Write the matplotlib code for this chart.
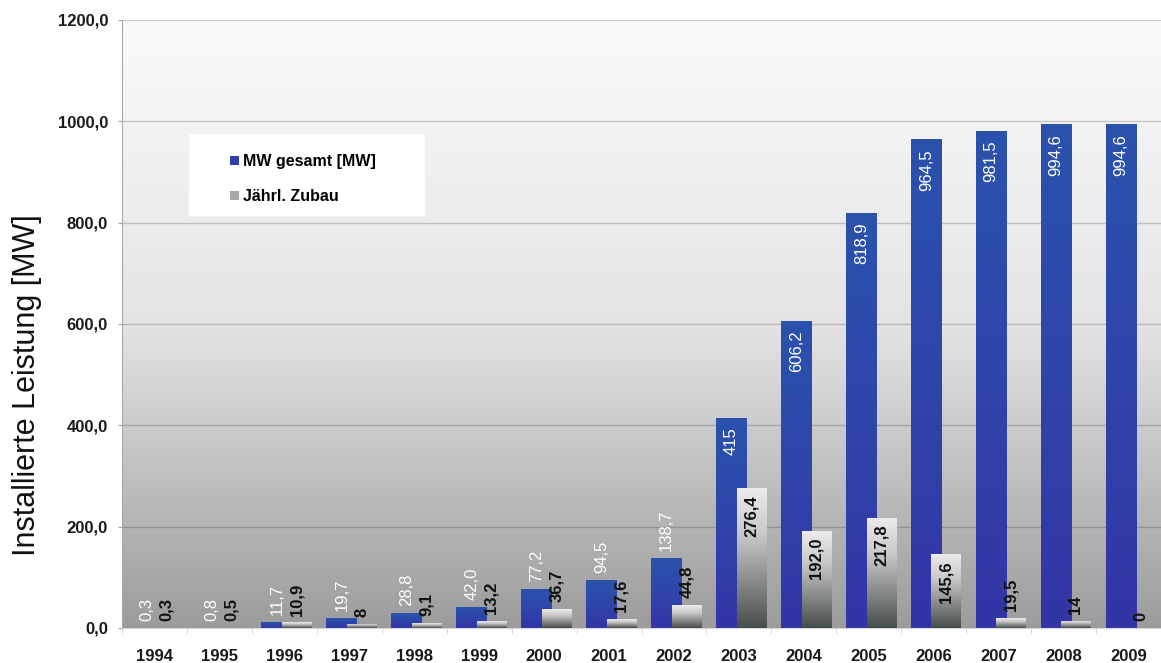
import numpy as np
import matplotlib
matplotlib.use("Agg")
import matplotlib.pyplot as plt
from matplotlib.colors import LinearSegmentedColormap
from matplotlib.patches import Rectangle, Patch
from matplotlib.ticker import FixedLocator, FuncFormatter

plt.rcParams["font.family"] = ["Liberation Sans", "DejaVu Sans"]

# ---- data -------------------------------------------------------------
years = ["1994", "1995", "1996", "1997", "1998", "1999", "2000", "2001",
         "2002", "2003", "2004", "2005", "2006", "2007", "2008", "2009"]
total_labels = ["0,3", "0,8", "11,7", "19,7", "28,8", "42,0", "77,2", "94,5",
                "138,7", "415", "606,2", "818,9", "964,5", "981,5", "994,6", "994,6"]
annual_labels = ["0,3", "0,5", "10,9", "8", "9,1", "13,2", "36,7", "17,6",
                 "44,8", "276,4", "192,0", "217,8", "145,6", "19,5", "14", "0"]
total = [float(s.replace(",", ".")) for s in total_labels]
annual = [float(s.replace(",", ".")) for s in annual_labels]
series_names = ["MW gesamt [MW]", "Jährl. Zubau"]
y_ticks = [0, 200, 400, 600, 800, 1000, 1200]

# ---- figure -----------------------------------------------------------
W, H = 1161, 663
fig = plt.figure(figsize=(W / 100, H / 100), dpi=100)
ax = fig.add_axes([122 / W, 1 - 628 / H, 1 - 122 / W, (628 - 20) / H])

x = np.arange(len(years))
ax.set_xlim(-0.5, len(years) - 0.5)
ax.set_ylim(0, 1200)

# plot-area background: white at the top fading to grey at the bottom
bg = np.linspace(0, 1, 256).reshape(-1, 1)
bg_cmap = LinearSegmentedColormap.from_list("bg", ["#fbfbfb", "#e4e4e4", "#9c9c9c"])
ax.imshow(bg, cmap=bg_cmap, extent=[0, 1, 0, 1], transform=ax.transAxes,
          aspect="auto", zorder=0, interpolation="bicubic")

blue_cmap = LinearSegmentedColormap.from_list("blue", ["#2a52ad", "#2f45aa", "#3434a6"])
grey_cmap = LinearSegmentedColormap.from_list(
    "grey", ["#ececec", "#c8c8c8", "#8a8c8c", "#474c4c"])


def shade(bars, cmap, z):
    """Paint a vertical gradient into each bar, clipped to its rectangle."""
    grad = np.linspace(0, 1, 128).reshape(-1, 1)
    for p in bars.patches:
        x0, y0 = p.get_x(), p.get_y()
        w, h = p.get_width(), p.get_height()
        if h <= 0:
            continue
        im = ax.imshow(grad, cmap=cmap, extent=[x0, x0 + w, y0, y0 + h],
                       aspect="auto", origin="upper", zorder=z,
                       interpolation="bicubic")
        im.set_clip_path(p)


b1 = ax.bar(x - 0.115, total, width=0.475, color="#2f45aa", zorder=2, linewidth=0)
shade(b1, blue_cmap, 2.1)
b2 = ax.bar(x + 0.19, annual, width=0.45, color="#a8a8a8", zorder=3, linewidth=0)
shade(b2, grey_cmap, 3.1)

ax.set_xlim(-0.5, len(years) - 0.5)
ax.set_ylim(0, 1200)


def label(bars, texts, color, weight, inside_min, gap_in):
    for p, t in zip(bars.patches, texts):
        xc = p.get_x() + p.get_width() / 2
        v = p.get_height()
        if v >= inside_min:
            ax.annotate(t, (xc, v), xytext=(0, -gap_in), textcoords="offset points",
                        rotation=90, ha="center", va="top", color=color,
                        fontsize=12, fontweight=weight, zorder=6)
        else:
            ax.annotate(t, (xc, v), xytext=(0, 5), textcoords="offset points",
                        rotation=90, ha="center", va="bottom", color=color,
                        fontsize=12, fontweight=weight, zorder=6)


label(b1, total_labels, "white", "normal", 300, 7)
label(b2, annual_labels, "#111111", "bold", 100, 5)

# ---- axes styling -----------------------------------------------------
ax.yaxis.set_major_locator(FixedLocator(y_ticks))
ax.yaxis.set_major_formatter(FuncFormatter(lambda v, _: f"{v:.1f}".replace(".", ",")))
ax.grid(axis="y", color="black", alpha=0.18, linewidth=1.0)
ax.set_axisbelow(True)

ax.set_xticks(x)
ax.set_xticklabels(years)
ax.set_xticks(np.arange(len(years) + 1) - 0.5, minor=True)
ax.tick_params(axis="x", which="major", length=0, pad=15,
               labelsize=12)
ax.tick_params(axis="x", which="minor", length=4, color="#d0d0d0", direction="out")
ax.tick_params(axis="y", length=3, color="#a0a0a0", pad=7, labelsize=12)
for lab in ax.get_xticklabels() + ax.get_yticklabels():
    lab.set_fontweight("bold")
    lab.set_color("#1a1a1a")

for s in ("top", "right"):
    ax.spines[s].set_visible(False)
ax.spines["left"].set_color("#a8a8a8")
ax.spines["bottom"].set_color("#d8d8d8")

fig.text(27 / W, 1 - 385 / H, "Installierte Leistung [MW]", rotation=90,
         ha="center", va="center", fontsize=22, color="#111111")

# ---- legend on a white panel -----------------------------------------
ax.add_patch(Rectangle((0.0635, 0.678), 0.228, 0.136, transform=ax.transAxes,
                       facecolor="white", edgecolor="#f0f0f0", linewidth=1, zorder=7))
handles = [Patch(facecolor="#3040b0"), Patch(facecolor="#a8a8a8")]
leg = ax.legend(handles, series_names, loc="upper left",
                bbox_to_anchor=(0.098, 0.79), borderaxespad=0, frameon=False,
                handlelength=0.55, handleheight=0.55, handletextpad=0.25,
                labelspacing=1.25, prop={"weight": "bold", "size": 11.5})
leg.set_zorder(8)

fig.savefig("out.png", dpi=100, facecolor="white")
